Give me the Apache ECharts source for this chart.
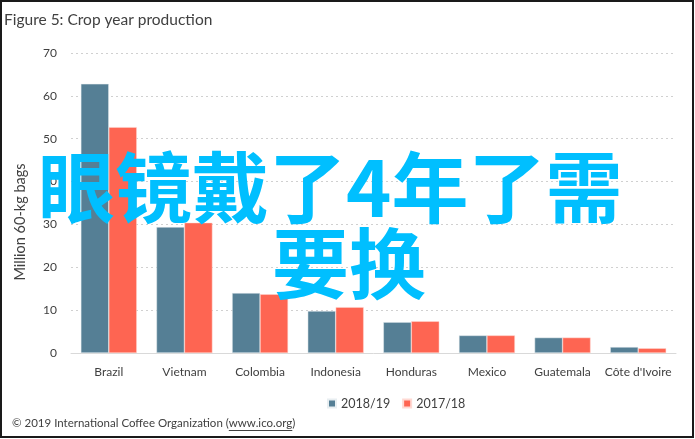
<!DOCTYPE html>
<html>
<head>
<meta charset="utf-8">
<script src="https://cdn.jsdelivr.net/npm/echarts@6/dist/echarts.min.js"></script>
<style>
html,body{margin:0;padding:0;background:#fff;}
#chart{width:695px;height:439px;}
</style>
</head>
<body>
<div id="chart"></div>
<script>
const categories = ['Brazil', 'Vietnam', 'Colombia', 'Indonesia', 'Honduras', 'Mexico', 'Guatemala', "Côte d'Ivoire"];
const series2018 = [62.8, 29.4, 14.0, 9.8, 7.2, 4.1, 3.6, 1.4];
const series2017 = [52.7, 30.4, 13.7, 10.7, 7.4, 4.1, 3.6, 1.1];
const seriesNames = ['2018/19', '2017/18'];
const yTicks = { min: 0, max: 70, interval: 10 };
const titleText = 'Figure 5: Crop year production';
const yAxisName = 'Million 60-kg bags';
const footerText = '© 2019 International Coffee Organization (';
const footerLink = 'www.ico.org';
const overlayLine1 = '眼镜戴了4年了需';
const overlayLine2 = '要换';

const FONT = 'Lato, "Open Sans", sans-serif';
const FS_FOOT = 11.5;
const ctx = document.createElement('canvas').getContext('2d');
ctx.font = FS_FOOT + 'px Lato';
const fw = ctx.measureText(footerText).width;
const lw = ctx.measureText(footerLink).width;

const chart = echarts.init(document.getElementById('chart'), null, { renderer: 'canvas' });
chart.setOption({
  backgroundColor: '#ffffff',
  animation: false,
  textStyle: { fontFamily: FONT },
  title: {
    text: titleText, left: -1, top: 7,
    textStyle: { fontSize: 15.5, fontWeight: 'normal', color: '#404040', fontFamily: FONT }
  },
  legend: {
    data: seriesNames, left: 322, top: 392, itemWidth: 8, itemHeight: 8, itemGap: 12,
    icon: 'rect',
    textStyle: { fontSize: 12.5, color: '#404040', fontFamily: FONT }
  },
  grid: { left: 71, right: 19, top: 53, bottom: 86 },
  xAxis: {
    type: 'category', data: categories,
    axisLine: { lineStyle: { color: '#d9d9d9', width: 1 } },
    axisTick: { show: false },
    axisLabel: { interval: 0, color: '#404040', fontSize: 12, margin: 13, fontFamily: FONT }
  },
  yAxis: {
    type: 'value', min: yTicks.min, max: yTicks.max, interval: yTicks.interval,
    axisLine: { show: false }, axisTick: { show: false },
    axisLabel: { color: '#404040', fontSize: 12, margin: 14, fontFamily: FONT },
    splitLine: { lineStyle: { color: '#d0d0d0', type: [2, 3], width: 1 } }
  },
  series: [
    { name: seriesNames[0], type: 'bar', data: series2018, barGap: '0%', barCategoryGap: '26%',
      itemStyle: { color: '#557f95', borderColor: '#e8eef1', borderWidth: 0.5 } },
    { name: seriesNames[1], type: 'bar', data: series2017,
      itemStyle: { color: '#fe6552', borderColor: '#ffd9d3', borderWidth: 0.5 } }
  ],
  graphic: [
    { type: 'rect', z: 100, silent: true,
      shape: { x: 1, y: 1, width: 692, height: 436 },
      style: { fill: 'none', stroke: '#1a1a1a', lineWidth: 2 } },
    { type: 'text', x: 20, y: 222, rotation: Math.PI / 2, z: 100,
      style: { text: yAxisName, fontSize: 14.5, fontFamily: 'Lato', fill: '#404040', align: 'center', verticalAlign: 'middle' } },
    { type: 'text', x: 12, y: 417, z: 100,
      style: { text: footerText, fontSize: FS_FOOT, fontFamily: 'Lato', fill: '#404040' } },
    { type: 'text', x: 12 + fw, y: 417, z: 100,
      style: { text: footerLink, fontSize: FS_FOOT, fontFamily: 'Lato', fill: '#404040' } },
    { type: 'line', z: 100, shape: { x1: 12 + fw, y1: 430.5, x2: 12 + fw + lw, y2: 430.5 },
      style: { stroke: '#404040', lineWidth: 1 } },
    { type: 'text', x: 12 + fw + lw, y: 417, z: 100,
      style: { text: ')', fontSize: FS_FOOT, fontFamily: 'Lato', fill: '#404040' } },
    { type: 'text', x: 38, y: 149, z: 100,
      style: { text: overlayLine1, fontSize: 77, fontWeight: 'bold', fontFamily: '"Noto Sans CJK SC"', fill: '#00bfff' } },
    { type: 'text', x: 272, y: 225, z: 100,
      style: { text: overlayLine2, fontSize: 77, fontWeight: 'bold', fontFamily: '"Noto Sans CJK SC"', fill: '#00bfff' } }
  ]
});
</script>
</body>
</html>
